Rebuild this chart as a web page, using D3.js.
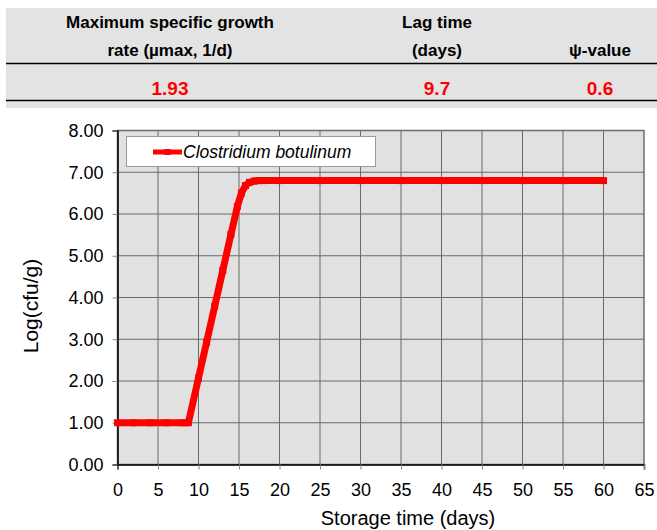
<!DOCTYPE html>
<html>
<head>
<meta charset="utf-8">
<script src="https://cdn.jsdelivr.net/npm/d3@7"></script>
<style>
  body { margin: 0; background: #fff; }
  svg { display: block; font-family: "Liberation Sans", Arial, sans-serif; }
</style>
</head>
<body>
<div id="chart"></div>
<script>
// table above the chart
const tableHeaders = [["Maximum specific growth", "rate (\u00b5max, 1/d)"], ["Lag time", "(days)"], ["", "\u03c8-value"]];
const tableValues = ["1.93", "9.7", "0.6"];

// growth curve
const seriesName = "Clostridium botulinum";
const days = [0, 2, 4, 6, 8, 8.75, 10, 11, 12, 13, 14, 14.8, 15.3, 15.8, 16.3, 16.9, 17.5, 18, 20, 25, 30, 35, 40, 45, 50, 55, 60];
const logCount = [1, 1, 1, 1, 1, 1, 2.07, 2.93, 3.79, 4.65, 5.51, 6.18, 6.5, 6.68, 6.76, 6.79, 6.8, 6.8, 6.8, 6.8, 6.8, 6.8, 6.8, 6.8, 6.8, 6.8, 6.8];
const xTicks = d3.range(0, 66, 5);
const yTicks = d3.range(0, 9, 1);

const W = 657, H = 530;
const svg = d3.select("#chart").append("svg").attr("width", W).attr("height", H);

// ---- table ----
const colX = [170, 437, 600];
svg.append("rect").attr("x", 6).attr("y", 8).attr("width", W - 6).attr("height", 100).attr("fill", "#e3e3e3");
svg.append("line").attr("x1", 6).attr("x2", W).attr("y1", 63.5).attr("y2", 63.5).attr("stroke", "#000").attr("stroke-width", 1.5);
svg.append("line").attr("x1", 6).attr("x2", W).attr("y1", 100.5).attr("y2", 100.5).attr("stroke", "#000").attr("stroke-width", 1.5);
tableHeaders.forEach((h, i) => {
  h.forEach((t, j) => {
    svg.append("text").attr("x", colX[i]).attr("y", 28 + j * 28)
      .attr("text-anchor", "middle").attr("font-size", 17).attr("font-weight", "bold")
      .attr("fill", "#000").text(t);
  });
});
tableValues.forEach((v, i) => {
  svg.append("text").attr("x", colX[i]).attr("y", 95)
    .attr("text-anchor", "middle").attr("font-size", 19).attr("font-weight", "bold")
    .attr("fill", "#ff0000").text(v);
});

// ---- chart ----
const plot = { left: 117.5, top: 130.5, right: 644, bottom: 464.5 };
const x = d3.scaleLinear().domain([0, 65]).range([plot.left, plot.right]);
const y = d3.scaleLinear().domain([0, 8]).range([plot.bottom, plot.top]);

svg.append("rect").attr("x", plot.left).attr("y", plot.top)
  .attr("width", plot.right - plot.left).attr("height", plot.bottom - plot.top)
  .attr("fill", "#e1e1e1").attr("stroke", "#6e6e6e").attr("stroke-width", 1.5);

// grid
svg.append("g").selectAll("line").data(xTicks.slice(1, -1)).join("line")
  .attr("x1", d => x(d)).attr("x2", d => x(d)).attr("y1", plot.top).attr("y2", plot.bottom)
  .attr("stroke", "#6a6a6a").attr("stroke-width", 1);
svg.append("g").selectAll("line").data(yTicks.slice(1, -1)).join("line")
  .attr("x1", plot.left).attr("x2", plot.right).attr("y1", d => y(d)).attr("y2", d => y(d))
  .attr("stroke", "#6a6a6a").attr("stroke-width", 1);

// axes
const xAxis = svg.append("g").attr("transform", `translate(0,${plot.bottom})`)
  .call(d3.axisBottom(x).tickValues(xTicks).tickSize(5).tickPadding(14).tickFormat(d3.format("d")));
const yAxis = svg.append("g").attr("transform", `translate(${plot.left},0)`)
  .call(d3.axisLeft(y).tickValues(yTicks).tickSize(5).tickPadding(9).tickFormat(d3.format(".2f")));
[xAxis, yAxis].forEach(a => {
  a.select(".domain").attr("stroke", "#000").attr("stroke-width", 1.5);
  a.selectAll(".tick line").attr("stroke", "#888");
  a.selectAll(".tick text").attr("font-size", 18).attr("fill", "#000")
    .attr("font-family", "Liberation Sans, Arial, sans-serif");
});

svg.append("text").attr("x", 408).attr("y", 525)
  .attr("text-anchor", "middle").attr("font-size", 20).attr("fill", "#000").text("Storage time (days)");
svg.append("text").attr("transform", `translate(38,306) rotate(-90)`)
  .attr("text-anchor", "middle").attr("font-size", 21).attr("fill", "#000").text("Log(cfu/g)");

// series
const pts = days.map((d, i) => [d, logCount[i]]);
svg.append("path").datum(pts)
  .attr("fill", "none").attr("stroke", "#ff0000").attr("stroke-width", 7)
  .attr("stroke-linejoin", "round")
  .attr("d", d3.line().x(d => x(d[0])).y(d => y(d[1])));
svg.append("g").selectAll("rect").data(pts).join("rect")
  .attr("x", d => x(d[0]) - 3.5).attr("y", d => y(d[1]) - 3.5)
  .attr("width", 7).attr("height", 7).attr("fill", "#ff0000");

// legend
const lg = svg.append("g");
lg.append("rect").attr("x", 126.5).attr("y", 136.5).attr("width", 249).attr("height", 30)
  .attr("fill", "#fff").attr("stroke", "#9a9a9a");
lg.append("line").attr("x1", 153).attr("x2", 182).attr("y1", 152).attr("y2", 152)
  .attr("stroke", "#ff0000").attr("stroke-width", 5);
lg.append("rect").attr("x", 164.5).attr("y", 149).attr("width", 6).attr("height", 6).attr("fill", "#ff0000");
lg.append("text").attr("x", 183).attr("y", 158).attr("font-size", 17.5).attr("font-style", "italic")
  .attr("fill", "#000").text(seriesName);
</script>
</body>
</html>
